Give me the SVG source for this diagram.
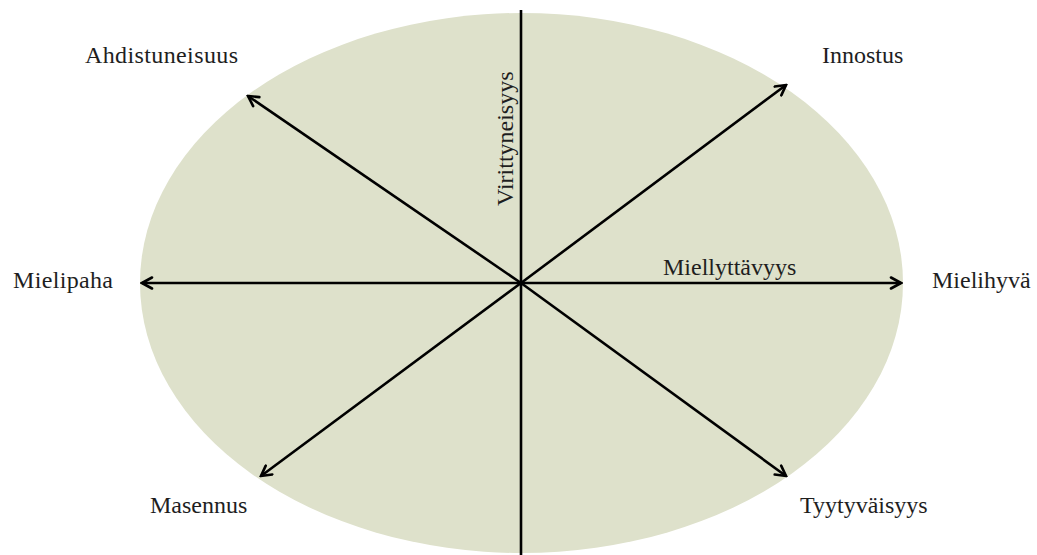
<svg xmlns="http://www.w3.org/2000/svg" width="1037" height="555" viewBox="0 0 1037 555">
<style>
.lbl{font-family:"Liberation Serif","Times New Roman",serif;font-size:24px;fill:#1e1e1e}
.ax{stroke:#000;stroke-width:2.6;fill:none}
</style>
<defs>
<marker id="arr" viewBox="0 0 14 14" refX="12" refY="7" markerWidth="14" markerHeight="14" markerUnits="userSpaceOnUse" orient="auto">
<path d="M2,1.5 L12,7 L2,12.5" fill="none" stroke="#000" stroke-width="2.6" stroke-linecap="round" stroke-linejoin="miter"/>
</marker>
</defs>
<rect width="1037" height="555" fill="#fff"/>
<g id="background">
<ellipse cx="521.5" cy="283" rx="381.5" ry="270" fill="#dee1cb"/>
</g>
<g id="connectors">
<line class="ax" x1="521" y1="10" x2="521" y2="555"/>
<line class="ax" x1="521" y1="283" x2="142" y2="283" marker-end="url(#arr)"/>
<line class="ax" x1="521" y1="283" x2="901" y2="283" marker-end="url(#arr)"/>
<line class="ax" x1="521" y1="283" x2="248" y2="96" marker-end="url(#arr)"/>
<line class="ax" x1="521" y1="283" x2="786" y2="85" marker-end="url(#arr)"/>
<line class="ax" x1="521" y1="283" x2="261" y2="476" marker-end="url(#arr)"/>
<line class="ax" x1="521" y1="283" x2="786" y2="476" marker-end="url(#arr)"/>
</g>
<g id="node-ahdistuneisuus"><text class="lbl" x="85" y="63" textLength="153">Ahdistuneisuus</text></g>
<g id="node-innostus"><text class="lbl" x="822" y="63">Innostus</text></g>
<g id="node-mielipaha"><text class="lbl" x="13" y="288" textLength="100">Mielipaha</text></g>
<g id="node-mielihyva"><text class="lbl" x="932" y="288">Mielihyvä</text></g>
<g id="node-masennus"><text class="lbl" x="150" y="513">Masennus</text></g>
<g id="node-tyytyvaisyys"><text class="lbl" x="800" y="513">Tyytyväisyys</text></g>
<g id="axis-miellyttavyys"><text class="lbl" x="663" y="275">Miellyttävyys</text></g>
<g id="axis-virittyneisyys"><text class="lbl" transform="translate(513,206) rotate(-90)" x="0" y="0">Virittyneisyys</text></g>
</svg>
